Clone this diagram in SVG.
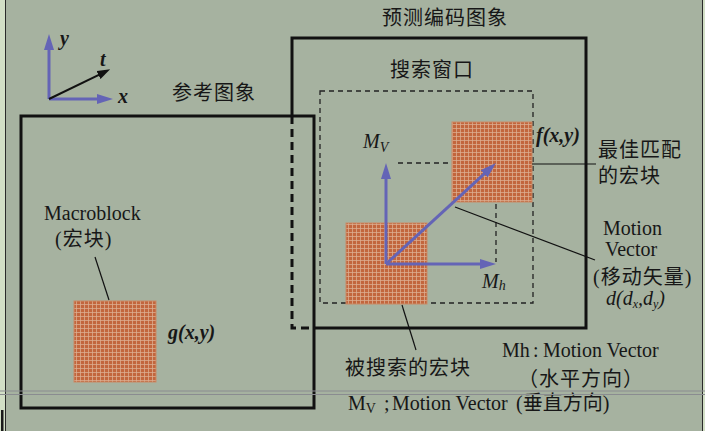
<svg xmlns="http://www.w3.org/2000/svg" width="705" height="431" viewBox="0 0 705 431">
<style>
.cjk{font-family:"Liberation Serif","Noto Sans CJK SC",serif;font-size:20px;fill:#171717;letter-spacing:1px}
.lat{font-family:"Liberation Serif",serif;font-size:20px;fill:#171717}
.it{font-style:italic}
.bi{font-style:italic;font-weight:bold}
.box{fill:none;stroke:#111;stroke-width:3}
.thin{fill:none;stroke:#111;stroke-width:1.2}
.dash{fill:none;stroke:#222;stroke-width:1.3;stroke-dasharray:5 4}
.blk{fill:url(#tex);stroke:#c98a66;stroke-width:1}
.vec{stroke:#6464b6;stroke-width:3;fill:none}
</style>
<defs>
<pattern id="tex" width="4" height="4" patternUnits="userSpaceOnUse">
<rect width="4" height="4" fill="#c2663d"/>
<rect width="4" height="1" fill="#dcae92" opacity="0.75"/>
<rect width="1" height="4" fill="#dcae92" opacity="0.75"/>
</pattern>
<marker id="ab" markerUnits="userSpaceOnUse" markerWidth="16" markerHeight="10" refX="6" refY="5" orient="auto">
<path d="M0,0 L16,5 L0,10 Z" fill="#6464b6"/>
</marker>
<marker id="ak" markerUnits="userSpaceOnUse" markerWidth="13" markerHeight="9" refX="5" refY="4.5" orient="auto">
<path d="M0,0 L13,4.5 L0,9 Z" fill="#111"/>
</marker>
</defs>
<rect width="705" height="431" fill="#a6b2a0"/>
<rect width="5" height="431" fill="#d2dfc6"/>
<line x1="5.5" y1="0" x2="5.5" y2="431" stroke="#2a2a2a" stroke-width="1"/>
<rect x="703" width="2" height="431" fill="#d2dfc6"/>
<line x1="702.5" y1="0" x2="702.5" y2="431" stroke="#2a2a2a" stroke-width="1"/>

<g id="axes">
<line class="vec" x1="49" y1="99" x2="49" y2="44" marker-end="url(#ab)"/>
<line class="vec" x1="49" y1="99" x2="103" y2="99" marker-end="url(#ab)"/>
<line x1="49" y1="99" x2="103" y2="72.8" stroke="#111" stroke-width="2" marker-end="url(#ak)"/>
<text class="lat bi" x="60" y="45" font-size="17">y</text>
<text class="lat bi" x="100" y="66" font-size="17">t</text>
<text class="lat bi" x="118" y="103" font-size="17">x</text>
</g>

<g id="reference-image">
<rect class="box" x="21" y="116" width="293" height="292"/>
<text class="cjk" x="172" y="100">参考图象</text>
</g>

<g id="predicted-image">
<path class="box" d="M292,116 V38 H586 V328 H314"/>
<path class="box" d="M292,116 V328 H314" stroke-dasharray="8 5"/>
<text class="cjk" x="382" y="25">预测编码图象</text>
</g>

<g id="search-window">
<rect class="dash" x="320" y="91" width="213" height="212"/>
<text class="cjk" x="390" y="77" letter-spacing="0.5">搜索窗口</text>
</g>

<g id="macroblock">
<rect class="blk" x="74" y="301" width="82" height="81"/>
<text class="lat" x="44" y="220">Macroblock</text>
<text class="cjk" x="55" y="246" letter-spacing="0">(宏块)</text>
<text class="lat bi" x="168" y="339">g(x,y)</text>
</g>

<g id="best-match">
<rect class="blk" x="452" y="122" width="80" height="80"/>
<text class="lat bi" x="536" y="142">f(x,y)</text>
<text class="cjk" x="598" y="157">最佳匹配</text>
<text class="cjk" x="598" y="183">的宏块</text>
</g>

<g id="searched-block">
<rect class="blk" x="346" y="223" width="81" height="81"/>
<text class="cjk" x="345" y="375">被搜索的宏块</text>
</g>

<g id="motion-vector-label">
<text class="lat" x="603" y="235">Motion</text>
<text class="lat" x="605" y="256">Vector</text>
<text class="cjk" x="593" y="284">(移动矢量)</text>
<text class="lat it" x="606" y="305" font-size="19">d(d<tspan font-size="12" dy="3">x</tspan><tspan dy="-3">,d</tspan><tspan font-size="12" dy="3">y</tspan><tspan dy="-3">)</tspan></text>
</g>

<g id="mv-labels">
<text class="lat it" x="363" y="148">M<tspan font-size="14" dy="4">V</tspan></text>
<text class="lat it" x="482" y="288">M<tspan font-size="14" dy="2">h</tspan></text>
</g>

<g id="legend">
<text class="lat" x="502" y="357">Mh<tspan x="533">:</tspan><tspan x="543">Motion Vector</tspan></text>
<text class="cjk" x="518" y="386" font-size="19" letter-spacing="2">（水平方向）</text>
<text class="lat" x="348" y="410">M<tspan font-size="14" dy="3">V</tspan><tspan dy="-3" x="384">;</tspan><tspan x="392">Motion Vector</tspan><tspan x="516" font-family="Liberation Serif, Noto Sans CJK SC, serif">(垂直方向)</tspan></text>
</g>

<g id="connectors">
<line class="vec" x1="386" y1="264" x2="386" y2="173" marker-end="url(#ab)"/>
<line class="vec" x1="386" y1="264" x2="486" y2="264" marker-end="url(#ab)"/>
<line class="vec" x1="386" y1="264" x2="488.6" y2="169.8" marker-end="url(#ab)"/>
<line class="dash" x1="398" y1="163" x2="450" y2="163"/>
<line class="dash" x1="496" y1="204" x2="496" y2="262"/>
<line class="thin" x1="455" y1="207" x2="595" y2="260"/>
<line class="thin" x1="532" y1="164" x2="596" y2="164"/>
<line class="thin" x1="402" y1="305" x2="416" y2="350"/>
<line class="thin" x1="95" y1="257" x2="109" y2="300"/>
</g>

<line x1="0" y1="391" x2="705" y2="391" stroke="#8a8c90" stroke-width="1.2"/>
<line x1="0" y1="394.5" x2="705" y2="394.5" stroke="#8a8c90" stroke-width="1.2"/>
<rect x="1" y="410" width="2.5" height="21" fill="#1a1a1a"/>
</svg>
